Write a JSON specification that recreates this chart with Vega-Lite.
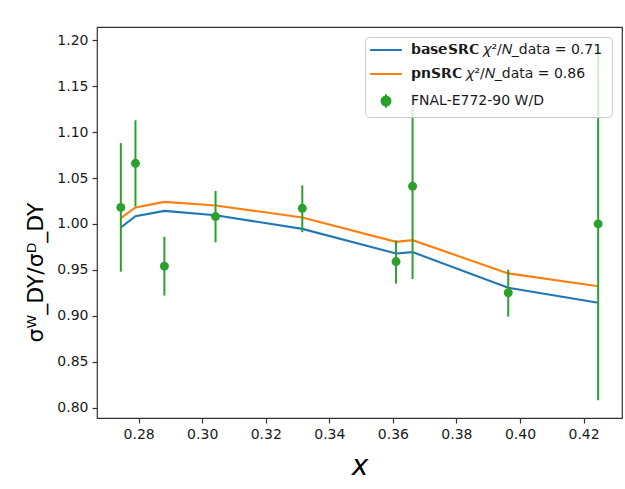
{
  "$schema": "https://vega.github.io/schema/vega-lite/v6.json",
  "width": 525,
  "height": 391,
  "autosize": {"type": "none"},
  "padding": {"left": 97, "top": 27, "right": 3, "bottom": 71},
  "background": "white",
  "config": {
    "font": "DejaVu Sans",
    "view": {"stroke": "#333333", "strokeWidth": 1.2},
    "axis": {
      "grid": false,
      "domain": false,
      "tickColor": "#333333",
      "tickSize": 5,
      "tickWidth": 1.2,
      "labelFont": "DejaVu Sans",
      "labelFontSize": 14,
      "labelColor": "#1a1a1a",
      "titleFont": "DejaVu Sans",
      "titleFontWeight": "normal",
      "titleColor": "#000000"
    }
  },
  "datasets": {
    "curves": [
      {"x": 0.2744, "ratio": 0.9961, "series": "baseSRC"},
      {"x": 0.2790, "ratio": 1.0084, "series": "baseSRC"},
      {"x": 0.2881, "ratio": 1.0142, "series": "baseSRC"},
      {"x": 0.3042, "ratio": 1.0095, "series": "baseSRC"},
      {"x": 0.3315, "ratio": 0.9946, "series": "baseSRC"},
      {"x": 0.3610, "ratio": 0.9678, "series": "baseSRC"},
      {"x": 0.3662, "ratio": 0.9693, "series": "baseSRC"},
      {"x": 0.3963, "ratio": 0.9304, "series": "baseSRC"},
      {"x": 0.4246, "ratio": 0.9141, "series": "baseSRC"},
      {"x": 0.2744, "ratio": 1.0063, "series": "pnSRC"},
      {"x": 0.2790, "ratio": 1.0179, "series": "pnSRC"},
      {"x": 0.2881, "ratio": 1.0240, "series": "pnSRC"},
      {"x": 0.3042, "ratio": 1.0201, "series": "pnSRC"},
      {"x": 0.3315, "ratio": 1.0070, "series": "pnSRC"},
      {"x": 0.3610, "ratio": 0.9805, "series": "pnSRC"},
      {"x": 0.3662, "ratio": 0.9823, "series": "pnSRC"},
      {"x": 0.3963, "ratio": 0.9461, "series": "pnSRC"},
      {"x": 0.4246, "ratio": 0.9322, "series": "pnSRC"}
    ],
    "measured": [
      {"x": 0.2744, "ratio": 1.018, "lo": 0.948, "hi": 1.088, "series": "FNAL-E772-90 W/D"},
      {"x": 0.2790, "ratio": 1.066, "lo": 1.019, "hi": 1.113, "series": "FNAL-E772-90 W/D"},
      {"x": 0.2881, "ratio": 0.954, "lo": 0.922, "hi": 0.986, "series": "FNAL-E772-90 W/D"},
      {"x": 0.3042, "ratio": 1.008, "lo": 0.980, "hi": 1.036, "series": "FNAL-E772-90 W/D"},
      {"x": 0.3315, "ratio": 1.017, "lo": 0.991, "hi": 1.042, "series": "FNAL-E772-90 W/D"},
      {"x": 0.3610, "ratio": 0.959, "lo": 0.935, "hi": 0.982, "series": "FNAL-E772-90 W/D"},
      {"x": 0.3662, "ratio": 1.041, "lo": 0.940, "hi": 1.142, "series": "FNAL-E772-90 W/D"},
      {"x": 0.3963, "ratio": 0.925, "lo": 0.899, "hi": 0.950, "series": "FNAL-E772-90 W/D"},
      {"x": 0.4246, "ratio": 1.000, "lo": 0.808, "hi": 1.193, "series": "FNAL-E772-90 W/D"}
    ]
  },
  "encoding": {
    "x": {
      "field": "x",
      "type": "quantitative",
      "scale": {"domain": [0.2669, 0.4321], "nice": false, "zero": false},
      "axis": {
        "values": [0.28, 0.30, 0.32, 0.34, 0.36, 0.38, 0.40, 0.42],
        "format": ".2f",
        "labelPadding": 4,
        "title": "x",
        "titleFontSize": 28,
        "titleFontStyle": "italic",
        "titlePadding": 11
      }
    },
    "y": {
      "field": "ratio",
      "type": "quantitative",
      "scale": {"domain": [0.7886, 1.2145], "nice": false, "zero": false},
      "axis": {
        "values": [0.80, 0.85, 0.90, 0.95, 1.00, 1.05, 1.10, 1.15, 1.20],
        "format": ".2f",
        "labelPadding": 4,
        "title": "σᵂ_DY/σᴰ_DY",
        "titleFontSize": 22,
        "titlePadding": 9,
        "titleY": 245
      }
    },
    "color": {
      "field": "series",
      "type": "nominal",
      "scale": {
        "domain": ["baseSRC", "pnSRC", "FNAL-E772-90 W/D"],
        "range": ["#1f77b4", "#ff7f0e", "#2ca02c"]
      },
      "legend": {
        "title": null,
        "orient": "top-right",
        "offset": 10,
        "padding": 5,
        "fillColor": "rgba(255,255,255,0.8)",
        "strokeColor": "#cccccc",
        "cornerRadius": 4,
        "labelFont": "DejaVu Sans",
        "labelFontSize": 14,
        "labelColor": "#1a1a1a",
        "labelLimit": 400,
        "labelOffset": 17,
        "rowPadding": 9,
        "symbolSize": 190,
        "symbolOffset": 8,
        "symbolStrokeWidth": 2,
        "labelExpr": "datum.label === 'baseSRC' ? '𝗯𝗮𝘀𝗲𝗦𝗥𝗖  𝜒²/𝑁_data = 0.71' : datum.label === 'pnSRC' ? '𝗽𝗻𝗦𝗥𝗖  𝜒²/𝑁_data = 0.86' : datum.label",
        "encode": {
          "symbols": {
            "update": {
              "shape": {"signal": "datum.value === 'FNAL-E772-90 W/D' ? 'M-0.67,0A0.67,0.67 0 1,1 0.67,0A0.67,0.67 0 1,1 -0.67,0Z M0,-1L0,1' : 'M-2.3,0L2.3,0'"},
              "size": {"signal": "datum.value === 'FNAL-E772-90 W/D' ? 180 : 190"},
              "fill": {"signal": "datum.value === 'FNAL-E772-90 W/D' ? '#2ca02c' : 'transparent'"},
              "stroke": {"signal": "datum.value === 'baseSRC' ? '#1f77b4' : datum.value === 'pnSRC' ? '#ff7f0e' : '#2ca02c'"},
              "strokeWidth": {"value": 2},
              "opacity": {"value": 1}
            }
          }
        }
      }
    }
  },
  "layer": [
    {
      "data": {"name": "curves"},
      "mark": {"type": "line", "strokeWidth": 2.1}
    },
    {
      "data": {"name": "measured"},
      "mark": {"type": "rule", "strokeWidth": 2},
      "encoding": {
        "y": {"field": "lo", "type": "quantitative"},
        "y2": {"field": "hi"}
      }
    },
    {
      "data": {"name": "measured"},
      "mark": {"type": "point", "filled": true, "shape": "circle", "size": 80, "opacity": 1}
    }
  ]
}
